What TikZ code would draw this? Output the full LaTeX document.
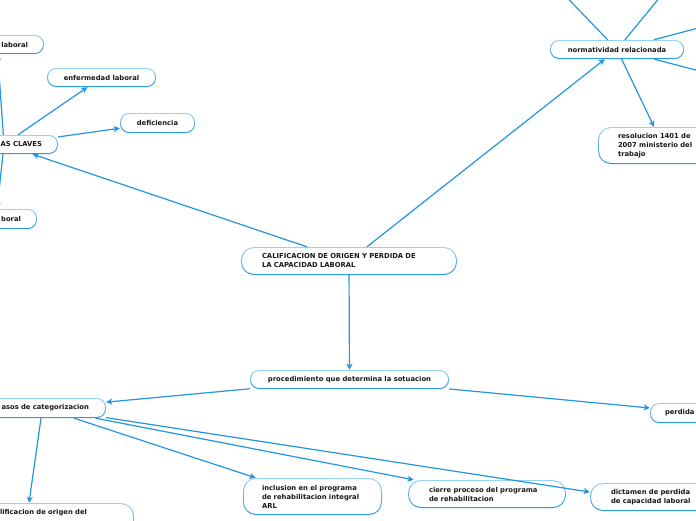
\documentclass[tikz,border=0pt]{standalone}
\usepackage{fontspec}
\setmainfont{DejaVu Sans}
\usetikzlibrary{arrows.meta}
\definecolor{lnc}{RGB}{34,150,224}
\definecolor{bdtop}{RGB}{150,210,246}
\definecolor{bdbot}{RGB}{38,152,228}
\definecolor{txc}{RGB}{25,25,25}
\begin{document}
\begin{tikzpicture}[x=1pt,y=-1pt,
  boxbase/.style={draw=none, text=txc,
    font=\fontsize{6.8}{9}\selectfont\bfseries, inner ysep=2pt, minimum height=19pt},
  box/.style={boxbase, rounded corners=9pt,
    path picture={
      \shade[top color=bdtop, bottom color=bdbot] (path picture bounding box.south west) rectangle (path picture bounding box.north east);
      \fill[white, rounded corners=7.9pt] ([xshift=1.1pt,yshift=-1.1pt]path picture bounding box.north west) rectangle ([xshift=-1.1pt,yshift=1.1pt]path picture bounding box.south east);}},
  bigbox/.style={boxbase, rounded corners=13pt,
    path picture={
      \shade[top color=bdtop, bottom color=bdbot] (path picture bounding box.south west) rectangle (path picture bounding box.north east);
      \fill[white, rounded corners=11.9pt] ([xshift=1.1pt,yshift=-1.1pt]path picture bounding box.north west) rectangle ([xshift=-1.1pt,yshift=1.1pt]path picture bounding box.south east);}},
  conn/.style={draw=lnc, line width=1.2pt, -{Stealth[length=6pt,width=6pt,inset=1.5pt]}},
  plain/.style={draw=lnc, line width=1.2pt}]
\useasboundingbox (0,0) rectangle (696,520);
\fill[white] (0,0) rectangle (696,520);
\clip (0,0) rectangle (696,520);

\node[box, minimum width=108pt, text width=76pt, inner xsep=16pt, align=right] (kw) at (4,144.5) {AS CLAVES};
\node[box, minimum width=94pt, text width=62pt, inner xsep=16pt, align=right] (lab1) at (-3,44.5) {laboral};
\node[box, minimum width=82pt, text width=50pt, inner xsep=16pt, align=right, minimum height=20pt] (lab2) at (-4,219) {boral};
\node[box, minimum width=109pt] (enf) at (101.5,77.5) {enfermedad laboral};
\node[box, minimum width=75pt, minimum height=20pt] (def) at (157.5,123) {deficiencia};
\node[bigbox, minimum width=216pt, minimum height=28pt, text width=174pt, inner xsep=21pt, align=left] (main) at (349,261) {CALIFICACION DE ORIGEN Y PERDIDA DE\\LA CAPACIDAD LABORAL};
\node[box, minimum width=134pt] (norm) at (617,49.5) {normatividad relacionada};
\node[bigbox, minimum width=130pt, minimum height=37pt, text width=90pt, inner xsep=20pt, align=left] (resol) at (663,145.5) {resolucion 1401 de\\2007 ministerio del\\trabajo};
\node[box, minimum width=199pt] (proc) at (349.5,379.5) {procedimiento que determina la sotuacion};
\node[box, minimum width=126pt, minimum height=20pt, text width=92pt, inner xsep=17pt, align=right] (casos) at (43,408) {asos de categorizacion};
\node[box, minimum width=106pt, minimum height=20pt, text width=76pt, inner xsep=15pt, align=left] (perd) at (703,413) {perdida};
\node[bigbox, minimum width=155pt, text width=113pt, inner xsep=21pt, align=left, text height=5pt, text depth=20pt, inner ysep=6pt] (calif) at (56.5,521.5) {lificacion de origen del};
\node[bigbox, minimum width=139pt, minimum height=37pt, text width=101pt, inner xsep=19pt, align=left] (incl) at (312.5,496.5) {inclusion en el programa\\de rehabilitacion integral\\ARL};
\node[bigbox, minimum width=158pt, minimum height=28pt, text width=116pt, inner xsep=21pt, align=left] (cierre) at (487,494) {cierre proceso del programa\\de rehabilitacion};
\node[bigbox, minimum width=130pt, minimum height=28pt, text width=88pt, inner xsep=21pt, align=left] (dict) at (655,497) {dictamen de perdida\\de capacidad laboral};

\coordinate (n1) at (550,-20);
\coordinate (n2) at (674,-20);
\coordinate (n3) at (740,17);
\coordinate (n4) at (740,81.5);

\draw[conn] (main) -- (kw);
\draw[conn] (main) -- (norm);
\draw[conn] (main) -- (proc);
\draw[conn] (kw) -- (enf);
\draw[conn] (kw) -- (def);
\draw[conn] (kw) -- (lab1);
\draw[conn] (kw) -- (lab2);
\draw[conn] (norm) -- (resol);
\draw[plain] (norm) -- (n1);
\draw[plain] (norm) -- (n2);
\draw[plain] (norm) -- (n3);
\draw[plain] (norm) -- (n4);
\draw[conn] (proc) -- (casos);
\draw[conn] (proc) -- (perd);
\draw[conn] ([xshift=-2pt]casos.south) -- ([xshift=-27.5pt]calif.north);
\draw[conn] (casos) -- (incl);
\draw[conn] (casos) -- (cierre);
\draw[conn] (casos) -- ([yshift=5pt]dict.west);
\end{tikzpicture}
\end{document}
